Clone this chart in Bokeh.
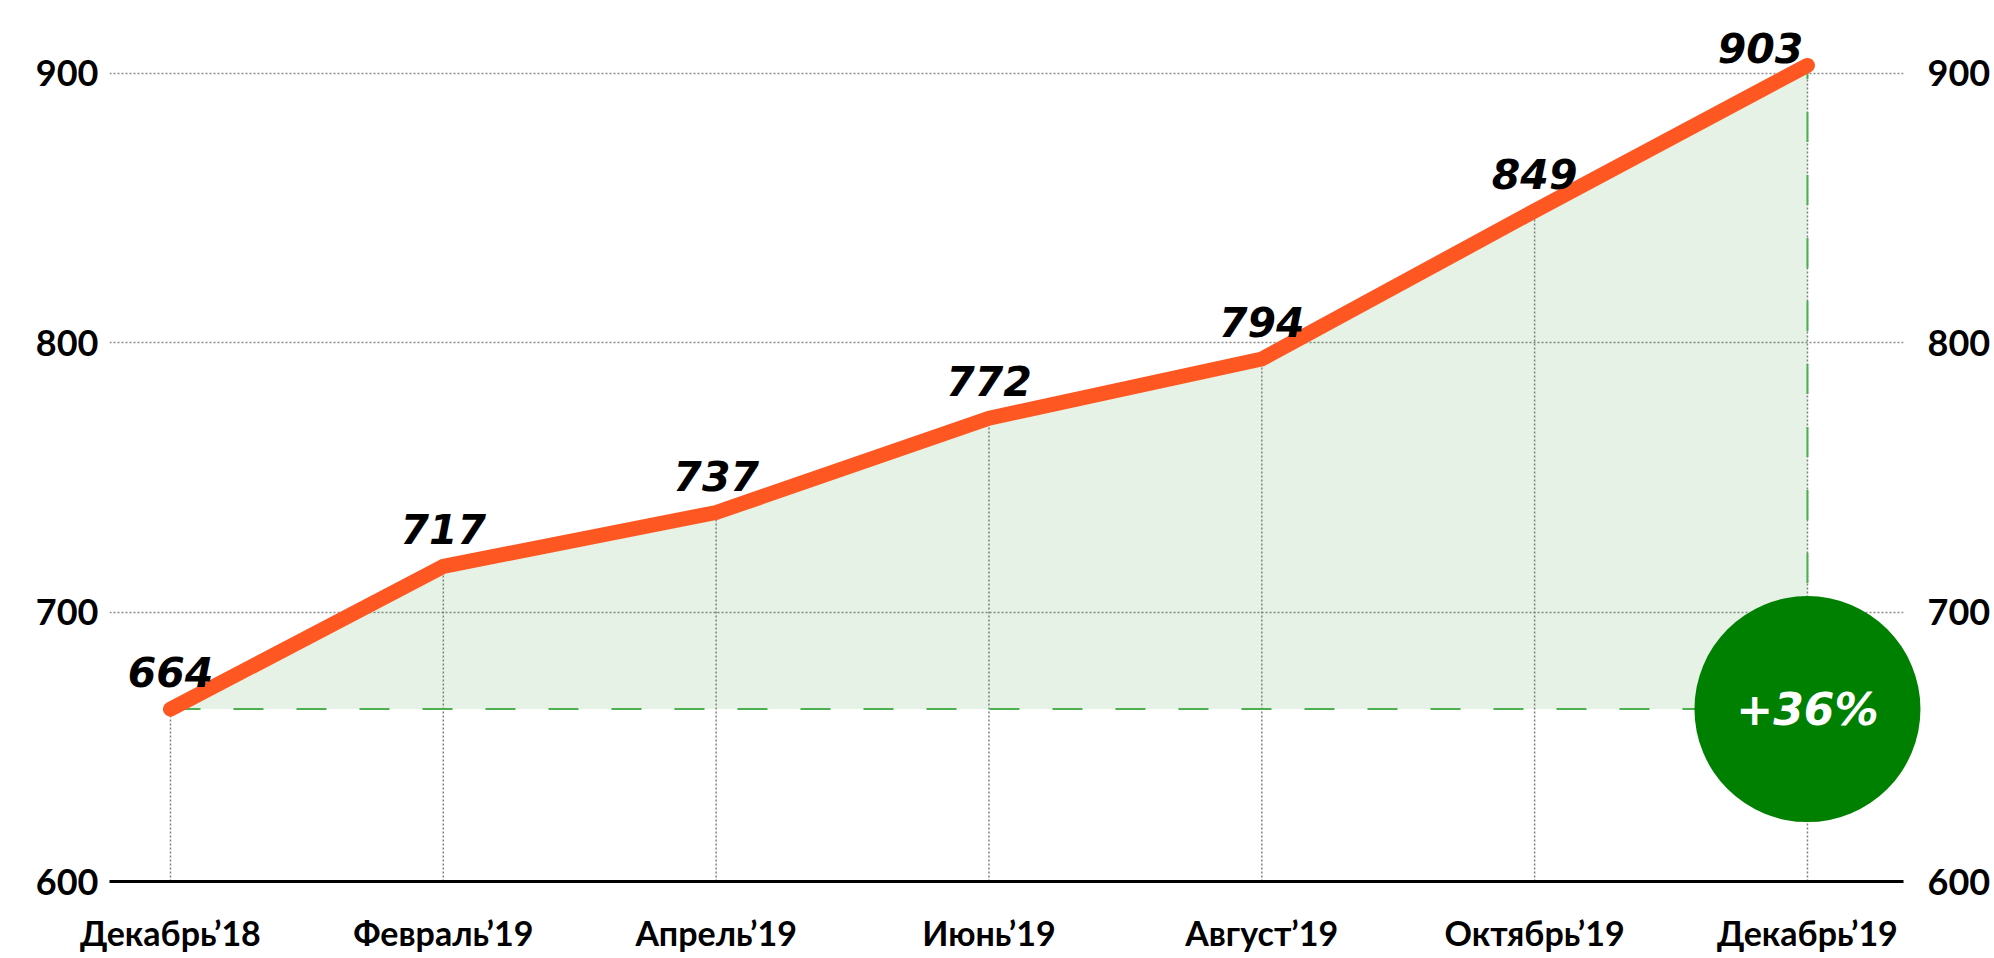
from bokeh.plotting import figure
from bokeh.models import ColumnDataSource, FixedTicker, LinearAxis, Range1d
from bokeh.core.properties import value
from bokeh.embed import file_html
from bokeh.resources import INLINE

# ---- data ----
months = [0, 2, 4, 6, 8, 10, 12]
month_labels = ["Декабрь’18", "Февраль’19", "Апрель’19", "Июнь’19",
                "Август’19", "Октябрь’19", "Декабрь’19"]
values = [664, 717, 737, 772, 794, 849, 903]
y_ticks = [600, 700, 800, 900]

base = values[0]
growth = round((values[-1] / values[0] - 1) * 100)
growth_label = f"+{growth}%"

src = ColumnDataSource(dict(
    x=months, y=values, base=[base] * len(values), floor=[y_ticks[0]] * len(values),
))
lab_src = ColumnDataSource(dict(x=months[:-1], y=values[:-1],
                                lab=[str(v) for v in values[:-1]]))
last_src = ColumnDataSource(dict(x=months[-1:], y=values[-1:],
                                 lab=[str(v) for v in values[-1:]]))

p = figure(width=1994, height=958,
           x_range=Range1d(-0.447, 12.704), y_range=Range1d(600, 927.1),
           output_backend="svg", toolbar_location=None,
           min_border_left=109, min_border_right=91, min_border_top=0, min_border_bottom=77)
p.outline_line_color = None
p.background_fill_color = "white"
p.border_fill_color = "white"

# area under the curve
p.varea(x="x", y1="base", y2="y", source=src, fill_color="#008000", fill_alpha=0.1)

# drop lines
p.segment(x0="x", y0="floor", x1="x", y1="y", source=src,
          line_color="#808080", line_width=1.5, line_dash="2 2")

# baseline and vertical dashed
p.line(x=[months[0], months[-1]], y=[base, base], line_color="#4caf50",
       line_width=2, line_dash="30 33")
p.line(x=[months[-1], months[-1]], y=[base, values[-1]], line_color="#4caf50",
       line_width=2, line_dash="30 33")

# main line
p.line(x="x", y="y", source=src, line_color="#ff5722", line_width=15,
       line_cap="round", line_join="round")

# value labels
lab_style = dict(text_font=value("DejaVu Sans"), text_font_style="bold italic",
                 text_font_size="41px", text_color="black")
r1 = p.text(x="x", y="y", text="lab", source=lab_src, y_offset=-22,
            text_align="center", text_baseline="bottom", **lab_style)
r2 = p.text(x="x", y="y", text="lab", source=last_src, x_offset=-47, y_offset=-2,
            text_align="center", text_baseline="bottom", **lab_style)
r1.level = "overlay"
r2.level = "overlay"

# growth circle
c = p.scatter(x=[months[-1]], y=[base], size=226, marker="circle",
              fill_color="#008000", line_color=None)
t = p.text(x=[months[-1]], y=[base], text=[growth_label],
           text_align="center", text_baseline="middle",
           text_font=value("DejaVu Sans"), text_font_style="bold italic",
           text_font_size="44px", text_color="white")
c.level = "overlay"
t.level = "overlay"

# grids
p.xgrid.visible = False
p.ygrid.ticker = FixedTicker(ticks=y_ticks)
p.ygrid.grid_line_color = "#8a8a8a"
p.ygrid.grid_line_width = 1.5
p.ygrid.grid_line_dash = "2 2"

# x axis
xa = p.xaxis[0]
xa.ticker = FixedTicker(ticks=months)
xa.major_label_overrides = {m: l for m, l in zip(months, month_labels)}
xa.axis_line_color = "black"
xa.axis_line_width = 3
xa.major_tick_line_color = None
xa.minor_tick_line_color = None
xa.major_tick_out = 0
xa.minor_tick_out = 0
xa.major_label_standoff = 30
xa.major_label_text_font = "Lato"
xa.major_label_text_font_style = "bold"
xa.major_label_text_font_size = "34px"
xa.major_label_text_color = "black"

# y axes
def style_y(ax, standoff):
    ax.ticker = FixedTicker(ticks=y_ticks)
    ax.axis_line_color = None
    ax.major_tick_line_color = None
    ax.minor_tick_line_color = None
    ax.major_tick_out = 0
    ax.minor_tick_out = 0
    ax.major_label_standoff = standoff
    ax.major_label_text_font = "Lato"
    ax.major_label_text_font_style = "bold"
    ax.major_label_text_font_size = "36px"
    ax.major_label_text_color = "black"

style_y(p.yaxis[0], 11)
ra = LinearAxis()
p.add_layout(ra, "right")
style_y(ra, 24)

open("out.html", "w").write(file_html(p, INLINE))
